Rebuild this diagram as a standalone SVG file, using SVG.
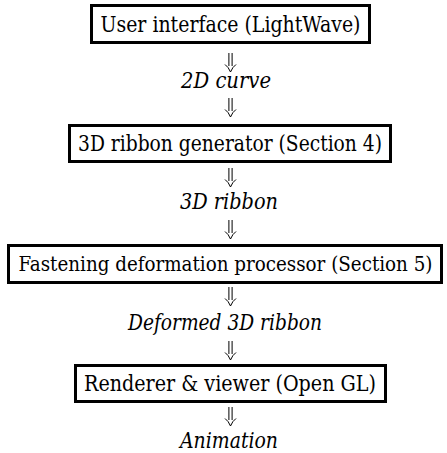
<svg xmlns="http://www.w3.org/2000/svg" width="447" height="453" viewBox="0 0 447 453">
<style>
.box{fill:#fff;stroke:#000;stroke-width:3}
.t{font-family:'DejaVu Serif Condensed','DejaVu Serif',serif;font-size:21.5px;fill:#000;text-anchor:middle}
.i{font-style:italic}
.arr{fill:none;stroke:#000;stroke-width:1;stroke-linecap:butt}
</style>
<defs>
<path id="dn" class="arr" d="M-1.6 0V13M1.6 0V13M-5.5 11.5Q-2 14 0 19Q2 14 5.5 11.5"/>
</defs>
<rect width="447" height="453" fill="#fff"/>
<g id="connectors">
<use href="#dn" x="230.5" y="53"/>
<use href="#dn" x="230.5" y="98"/>
<use href="#dn" x="230.5" y="168"/>
<use href="#dn" x="230.5" y="220"/>
<use href="#dn" x="230.5" y="287"/>
<use href="#dn" x="230.5" y="341"/>
<use href="#dn" x="230.5" y="407"/>
</g>
<g id="node-ui">
<rect class="box" x="91.5" y="5.5" width="278" height="37"/>
<text class="t" x="230.5" y="32" textLength="260" lengthAdjust="spacingAndGlyphs">User interface (LightWave)</text>
</g>
<g id="label-2dcurve">
<text class="t i" x="226" y="88" textLength="90" lengthAdjust="spacingAndGlyphs">2D curve</text>
</g>
<g id="node-ribbon-gen">
<rect class="box" x="69.5" y="125.5" width="321" height="36"/>
<text class="t" x="230" y="151" textLength="304" lengthAdjust="spacingAndGlyphs">3D ribbon generator (Section 4)</text>
</g>
<g id="label-3dribbon">
<text class="t i" x="229" y="209" textLength="98" lengthAdjust="spacingAndGlyphs">3D ribbon</text>
</g>
<g id="node-fastening">
<rect class="box" x="8.5" y="245.5" width="433" height="37"/>
<text class="t" x="225.5" y="271" style="font-size:20px" textLength="414" lengthAdjust="spacingAndGlyphs">Fastening deformation processor (Section 5)</text>
</g>
<g id="label-deformed">
<text class="t i" x="225" y="330" textLength="194" lengthAdjust="spacingAndGlyphs">Deformed 3D ribbon</text>
</g>
<g id="node-renderer">
<rect class="box" x="75.5" y="365.5" width="310" height="36"/>
<text class="t" x="230" y="391" textLength="292" lengthAdjust="spacingAndGlyphs">Renderer &amp; viewer (Open GL)</text>
</g>
<g id="label-animation">
<text class="t i" x="229" y="448" textLength="98" lengthAdjust="spacingAndGlyphs">Animation</text>
</g>
</svg>
